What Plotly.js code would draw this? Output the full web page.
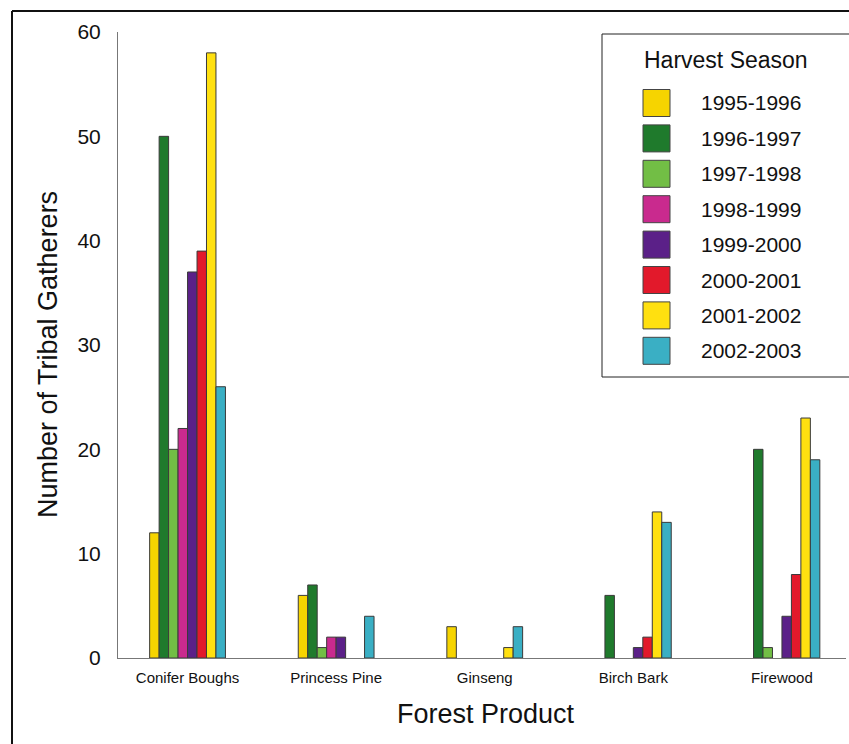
<!DOCTYPE html>
<html>
<head>
<meta charset="utf-8">
<script src="https://cdn.plot.ly/plotly-3.0.1.min.js"></script>
<style>
html,body{margin:0;padding:0;background:#fff;}
#chart{width:849px;height:744px;}
</style>
</head>
<body>
<div id="chart"></div>
<script>
// ---- data ----
const categories = ["Conifer Boughs", "Princess Pine", "Ginseng", "Birch Bark", "Firewood"];
const seasons = ["1995-1996", "1996-1997", "1997-1998", "1998-1999", "1999-2000", "2000-2001", "2001-2002", "2002-2003"];
const s1995 = [12, 6, 3, 0, 0];
const s1996 = [50, 7, 0, 6, 20];
const s1997 = [20, 1, 0, 0, 1];
const s1998 = [22, 2, 0, 0, 0];
const s1999 = [37, 2, 0, 1, 4];
const s2000 = [39, 0, 0, 2, 8];
const s2001 = [58, 0, 1, 14, 23];
const s2002 = [26, 4, 3, 13, 19];
const seriesValues = [s1995, s1996, s1997, s1998, s1999, s2000, s2001, s2002];
const colors = ["#F6D400", "#1F7A2C", "#72BE45", "#C92A8E", "#5B2088", "#E2192B", "#FFE010", "#3AAFC4"];
const xTitle = "Forest Product";
const yTitle = "Number of Tribal Gatherers";
const legendTitle = "Harvest Season";

// ---- geometry (pixels) ----
const W = 849, H = 744;
const L = 118, R = 3, T = 32, B = 86;
const pw = W - L - R, ph = H - T - B;
const px = x => (x - L) / pw;
const py = y => (H - B - y) / ph;

const font = "Liberation Sans, Arial, Helvetica, sans-serif";

const traces = seasons.map((s, i) => ({
  type: "bar",
  name: s,
  x: categories,
  y: seriesValues[i],
  marker: {
    color: colors[i],
    line: {color: "#3a3a3a", width: seriesValues[i].map(v => v === 0 ? 0 : 1)}
  },
  showlegend: false,
  hoverinfo: "x+y+name"
}));

const shapes = [];
const annotations = [];
// outer frame
shapes.push({type: "line", xref: "paper", yref: "paper", x0: px(12), x1: px(12), y0: py(11), y1: py(744), line: {color: "#111", width: 2}});
shapes.push({type: "line", xref: "paper", yref: "paper", x0: px(12), x1: px(849), y0: py(11), y1: py(11), line: {color: "#111", width: 2}});
// custom legend built from seasons/colors
shapes.push({type: "rect", xref: "paper", yref: "paper", x0: px(602), x1: px(852), y0: py(377), y1: py(34), line: {color: "#222", width: 1}, fillcolor: "#fff", layer: "above"});
annotations.push({xref: "paper", yref: "paper", x: px(726), y: py(60), text: legendTitle, showarrow: false, xanchor: "center", yanchor: "middle", font: {family: font, size: 23, color: "#111"}});
seasons.forEach((s, i) => {
  const cy = 103 + i * 35.4;
  shapes.push({type: "rect", xref: "paper", yref: "paper", x0: px(643), x1: px(670), y0: py(cy + 13.5), y1: py(cy - 13.5), fillcolor: colors[i], line: {color: "#444", width: 1}, layer: "above"});
  annotations.push({xref: "paper", yref: "paper", x: px(699), y: py(cy), text: s, showarrow: false, xanchor: "left", yanchor: "middle", font: {family: font, size: 21, color: "#111"}});
});
// axis titles
annotations.push({xref: "paper", yref: "paper", x: px(486), y: py(714), text: xTitle, showarrow: false, xanchor: "center", yanchor: "middle", font: {family: font, size: 27, color: "#111"}});
annotations.push({xref: "paper", yref: "paper", x: px(48), y: py(355), text: yTitle, textangle: -90, showarrow: false, xanchor: "center", yanchor: "middle", font: {family: font, size: 27, color: "#111"}});

const layout = {
  width: W, height: H,
  margin: {l: L, r: R, t: T, b: B, pad: 0},
  paper_bgcolor: "#fff", plot_bgcolor: "#fff",
  barmode: "group", bargap: 0.49, bargroupgap: 0,
  font: {family: font, color: "#111"},
  xaxis: {
    type: "category",
    range: [-0.468, -0.468 + pw / 148.6],
    showline: true, linecolor: "#777", linewidth: 1,
    showgrid: false, zeroline: false, ticks: "",
    tickfont: {family: font, size: 15, color: "#111"},
    ticklabelstandoff: 6,
    automargin: false
  },
  yaxis: {
    range: [0, 60],
    tickvals: [0, 10, 20, 30, 40, 50, 60],
    showline: true, linecolor: "#777", linewidth: 1,
    showgrid: false, zeroline: false, ticks: "",
    tickfont: {family: font, size: 21, color: "#111"},
    ticklabelstandoff: 12,
    automargin: false
  },
  shapes: shapes,
  annotations: annotations,
  showlegend: false
};

Plotly.newPlot("chart", traces, layout, {displayModeBar: false, responsive: false});
</script>
</body>
</html>
